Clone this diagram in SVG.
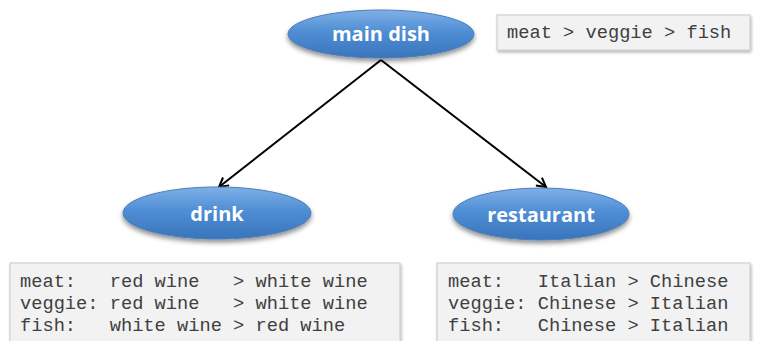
<svg xmlns="http://www.w3.org/2000/svg" width="758" height="341" viewBox="0 0 758 341">
<style>
.node-text{font-family:"Open Sans","DejaVu Sans",sans-serif;font-weight:bold;font-size:20px;fill:#ffffff;text-anchor:middle}
.ell{fill:url(#blue);stroke:#4a7ebb;stroke-width:1}
.box{fill:#f2f2f2;stroke:#c8c8c8;stroke-width:1}
.mono{font-family:"Liberation Mono","Courier New",monospace;font-size:18.7px;fill:#404040;white-space:pre}
.edge{stroke:#000;stroke-width:2;fill:none}
</style>
<defs>
<linearGradient id="blue" x1="0" y1="0" x2="0" y2="1">
<stop offset="0" stop-color="#7fb0e6"/>
<stop offset="0.45" stop-color="#4f8ed4"/>
<stop offset="1" stop-color="#3a74bb"/>
</linearGradient>
<filter id="sh" x="-20%" y="-30%" width="140%" height="170%">
<feGaussianBlur in="SourceAlpha" stdDeviation="2.5"/>
<feOffset dx="0" dy="3" result="b"/>
<feComponentTransfer><feFuncA type="linear" slope="0.45"/></feComponentTransfer>
<feMerge><feMergeNode/><feMergeNode in="SourceGraphic"/></feMerge>
</filter>
<filter id="bsh" x="-5%" y="-20%" width="110%" height="140%">
<feGaussianBlur in="SourceAlpha" stdDeviation="1.5"/>
<feOffset dx="1" dy="2" result="b"/>
<feComponentTransfer><feFuncA type="linear" slope="0.3"/></feComponentTransfer>
<feMerge><feMergeNode/><feMergeNode in="SourceGraphic"/></feMerge>
</filter>
<marker id="arr" markerWidth="12" markerHeight="12" refX="10" refY="6" orient="auto" markerUnits="userSpaceOnUse">
<path d="M1,1 L10,6 L1,11" fill="none" stroke="#000" stroke-width="2"/>
</marker>
</defs>
<g id="connectors">
<line class="edge" x1="381" y1="60" x2="219" y2="187" marker-end="url(#arr)"/>
<line class="edge" x1="381" y1="60" x2="546" y2="187" marker-end="url(#arr)"/>
</g>
<g id="main-dish">
<ellipse class="ell" cx="381" cy="34" rx="93" ry="24" filter="url(#sh)"/>
<text class="node-text" x="381" y="41">main dish</text>
</g>
<g id="drink">
<ellipse class="ell" cx="217" cy="213" rx="94" ry="26" filter="url(#sh)"/>
<text class="node-text" x="217" y="221">drink</text>
</g>
<g id="restaurant">
<ellipse class="ell" cx="541" cy="214" rx="88" ry="26" filter="url(#sh)"/>
<text class="node-text" x="541" y="222">restaurant</text>
</g>
<g id="main-pref">
<rect class="box" x="497" y="15" width="253" height="35" filter="url(#bsh)"/>
<text class="mono" x="507" y="38">meat &gt; veggie &gt; fish</text>
</g>
<g id="drink-pref">
<rect class="box" x="10" y="263" width="390" height="80" filter="url(#bsh)"/>
<text class="mono" x="20" y="287">meat:   red wine   &gt; white wine</text>
<text class="mono" x="20" y="309">veggie: red wine   &gt; white wine</text>
<text class="mono" x="20" y="331">fish:   white wine &gt; red wine</text>
</g>
<g id="restaurant-pref">
<rect class="box" x="437" y="263" width="313" height="80" filter="url(#bsh)"/>
<text class="mono" x="448" y="287">meat:   Italian &gt; Chinese</text>
<text class="mono" x="448" y="309">veggie: Chinese &gt; Italian</text>
<text class="mono" x="448" y="331">fish:   Chinese &gt; Italian</text>
</g>
</svg>
